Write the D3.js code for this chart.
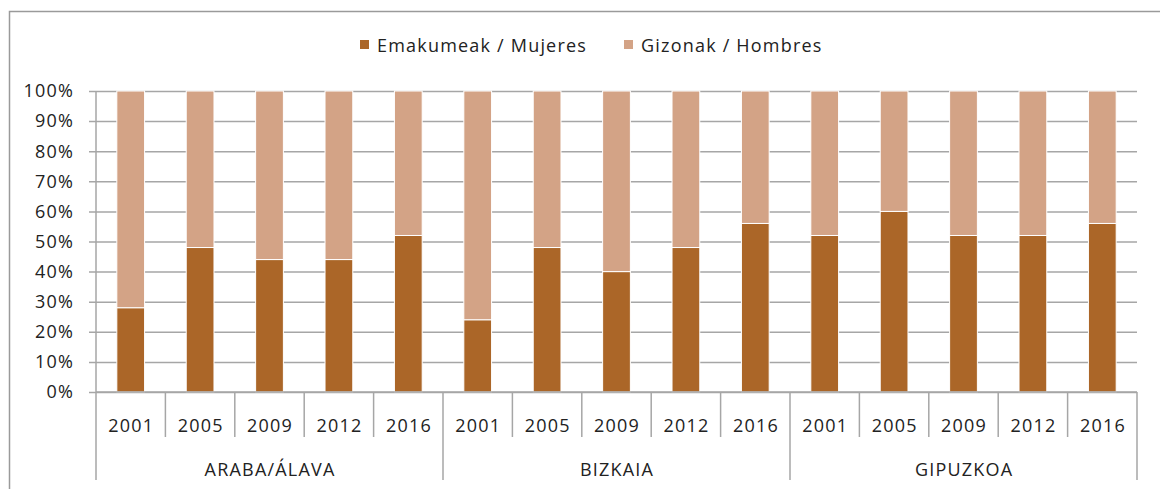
<!DOCTYPE html>
<html>
<head>
<meta charset="utf-8">
<script src="https://cdn.jsdelivr.net/npm/d3@7"></script>
<style>
    body { margin: 0; background: #fff; }
    text { font-family: "Open Sans", "Noto Sans", sans-serif; fill: #222; letter-spacing: 1.2px; }
</style>
</head>
<body>
<div id="chart"></div>
<script>
// data
const regions = ["ARABA/ÁLAVA", "BIZKAIA", "GIPUZKOA"];
const years = ["2001", "2005", "2009", "2012", "2016"];
// share of women (%) per region, same order as years
const women = {
    "ARABA/ÁLAVA": [28, 48, 44, 44, 52],
    "BIZKAIA": [24, 48, 40, 48, 56],
    "GIPUZKOA": [52, 60, 52, 52, 56]
};
const seriesNames = ["Emakumeak / Mujeres", "Gizonak / Hombres"];
const yTicks = [0, 10, 20, 30, 40, 50, 60, 70, 80, 90, 100];

const colors = ["#AB6628", "#D3A386"];

const W = 1160, H = 489;
const margin = { top: 91, right: 23, bottom: 97, left: 96 },
    width = W - margin.left - margin.right,
    height = H - margin.top - margin.bottom;

const svg = d3.select("#chart").append("svg")
    .attr("width", W)
    .attr("height", H);

// outer chart border (cropped on right/bottom)
svg.append("path")
    .attr("d", `M9.5,${H} V11.5 H${W}`)
    .attr("fill", "none")
    .attr("stroke", "#9a9a9a")
    .attr("stroke-width", 1.5);

const g = svg.append("g")
    .attr("transform", `translate(${margin.left},${margin.top})`);

// flat list of rows
const rows = [];
regions.forEach(r => {
    years.forEach((y, i) => {
        rows.push({ region: r, year: y, key: r + "|" + y, w: women[r][i], m: 100 - women[r][i] });
    });
});

const x = d3.scaleBand()
    .domain(rows.map(d => d.key))
    .range([0, width])
    .padding(0);

const y = d3.scaleLinear()
    .domain([0, 100])
    .range([height, 0]);

// gridlines
g.append("g")
    .attr("class", "grid")
    .call(d3.axisLeft(y).tickValues(yTicks).tickSize(-width - 7).tickFormat(""))
    .attr("transform", "translate(-7,0)")
    .call(s => s.select(".domain").remove())
    .selectAll("line")
    .attr("stroke", "#a6a6a6")
    .attr("stroke-width", 1.5);

// y labels
g.append("g")
    .selectAll("text")
    .data(yTicks)
    .enter().append("text")
    .attr("x", -22)
    .attr("y", d => y(d))
    .attr("dy", "0.35em")
    .attr("text-anchor", "end")
    .style("font-size", "18px")
    .text(d => d + "%");

// y axis line
g.append("line")
    .attr("x1", 0).attr("x2", 0)
    .attr("y1", 0).attr("y2", height)
    .attr("stroke", "#a6a6a6")
    .attr("stroke-width", 1.5);

// stacked bars
const stack = d3.stack().keys(["w", "m"]);
const series = stack(rows);
const barW = x.bandwidth() * 0.4;

g.append("g")
    .selectAll("g")
    .data(series)
    .enter().append("g")
    .attr("fill", (d, i) => colors[i])
    .selectAll("rect")
    .data(d => d)
    .enter().append("rect")
    .attr("x", d => x(d.data.key) + (x.bandwidth() - barW) / 2)
    .attr("y", d => y(d[1]))
    .attr("width", barW)
    .attr("height", d => y(d[0]) - y(d[1]))
    .attr("stroke", "#fff")
    .attr("stroke-width", 1);

// category axis line
g.append("line")
    .attr("x1", 0).attr("x2", width)
    .attr("y1", height).attr("y2", height)
    .attr("stroke", "#a6a6a6")
    .attr("stroke-width", 1.5);

// year ticks (boundaries)
const bounds = rows.map(d => x(d.key)).concat([width]);
g.append("g")
    .selectAll("line")
    .data(bounds)
    .enter().append("line")
    .attr("x1", d => d).attr("x2", d => d)
    .attr("y1", height)
    .attr("y2", (d, i) => (i % years.length === 0) ? height + 88 : height + 45)
    .attr("stroke", "#a6a6a6")
    .attr("stroke-width", 1.5);

// year labels
g.append("g")
    .selectAll("text")
    .data(rows)
    .enter().append("text")
    .attr("x", d => x(d.key) + x.bandwidth() / 2 + 0.6)
    .attr("y", height + 34)
    .attr("dy", "0.35em")
    .attr("text-anchor", "middle")
    .style("font-size", "18px")
    .text(d => d.year);

// region labels
g.append("g")
    .selectAll("text")
    .data(regions)
    .enter().append("text")
    .attr("x", r => {
        const keys = rows.filter(d => d.region === r).map(d => x(d.key));
        return (d3.min(keys) + d3.max(keys) + x.bandwidth()) / 2 + 0.6;
    })
    .attr("y", height + 78)
    .attr("dy", "0.35em")
    .attr("text-anchor", "middle")
    .style("font-size", "18px")
    .text(d => d);

// legend
const legendX = [360, 624];
const legend = svg.append("g");
seriesNames.forEach((name, i) => {
    legend.append("rect")
        .attr("x", legendX[i])
        .attr("y", 40)
        .attr("width", 9)
        .attr("height", 9)
        .attr("fill", colors[i]);
    legend.append("text")
        .attr("x", legendX[i] + 17)
        .attr("y", 46)
        .attr("dy", "0.35em")
        .style("font-size", "18px")
        .text(name);
});
</script>
</body>
</html>
